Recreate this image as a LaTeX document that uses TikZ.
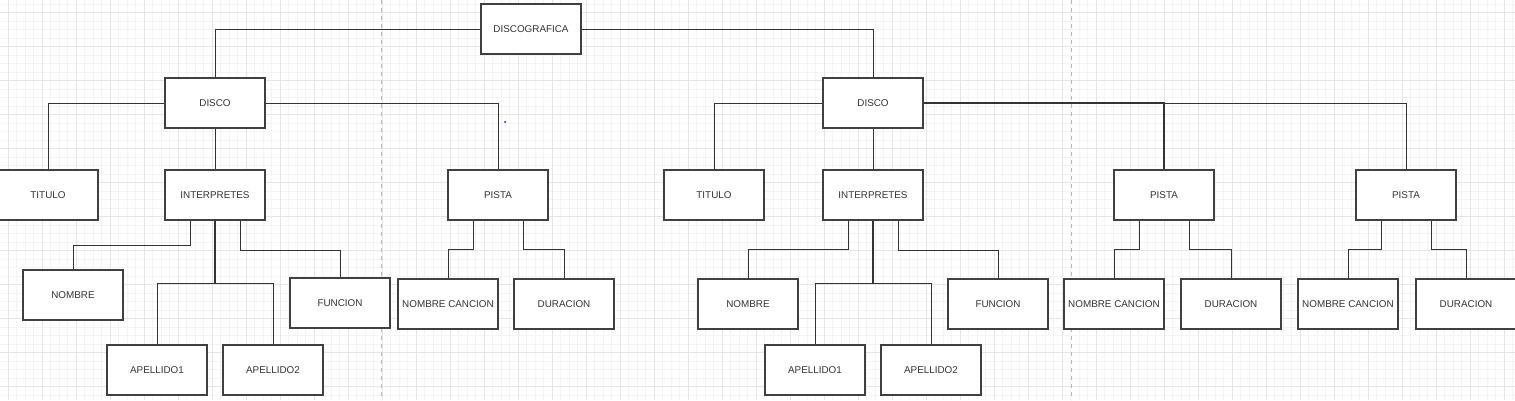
\documentclass[tikz,border=0pt]{standalone}
\usepackage{fontspec}
\setmainfont{Liberation Sans}
\definecolor{ink}{HTML}{333333}
\definecolor{rim}{HTML}{404040}
\begin{document}
\begin{tikzpicture}[
	x=0.75pt, y=-0.75pt,
	box/.style={
		draw=rim, line width=0.8pt, rectangle, fill=white,
		minimum width=75pt, minimum height=37.5pt,
		font=\fontsize{7.4}{9}\selectfont, text=ink, inner sep=0pt
	},
	link/.style={draw=ink, line width=0.7pt},
	minor/.style={gray!9, line width=0.5pt},
	major/.style={gray!20, line width=0.5pt},
	pagebreak/.style={gray!55, dashed, line width=0.5pt},
	]
	
	% paper and grid
	\fill[white] (0,0) rectangle (1515,400);
	\useasboundingbox (0,0) rectangle (1515,400);
	\foreach \k in {0,...,178} \draw[minor] ({-0.5+8.5*\k},0) -- ++(0,400);
	\foreach \k in {0,...,47} \draw[minor] (0,{4.2+8.5*\k}) -- ++(1515,0);
	\foreach \k in {0,...,44} \draw[major] ({8+34*\k},0) -- ++(0,400);
	\foreach \k in {0,...,11} \draw[major] (0,{12.7+34*\k}) -- ++(1515,0);
	\draw[pagebreak] (381,0) -- (381,400);
	\draw[pagebreak] (1071,0) -- (1071,400);
	
	\node[box] (disco-grafica) at (531,29) {DISCOGRAFICA};
	
	% first disco
	\node[box] (discoA)    at (215,103) {DISCO};
	\node[box] (tituloA)   at (48,195)  {TITULO};
	\node[box] (interpA)   at (215,195) {INTERPRETES};
	\node[box] (pistaA)    at (498,195) {PISTA};
	\node[box] (nombreA)   at (73,295)  {NOMBRE};
	\node[box] (apel1A)    at (157,370) {APELLIDO1};
	\node[box] (apel2A)    at (273,370) {APELLIDO2};
	\node[box] (funcionA)  at (340,303) {FUNCION};
	\node[box] (cancionA)  at (448,304) {NOMBRE CANCION};
	\node[box] (duracionA) at (564,304) {DURACION};
	
	% second disco
	\node[box] (discoB)     at (873,103)  {DISCO};
	\node[box] (tituloB)    at (714,195)  {TITULO};
	\node[box] (interpB)    at (873,195)  {INTERPRETES};
	\node[box] (pistaB1)    at (1164,195) {PISTA};
	\node[box] (pistaB2)    at (1406,195) {PISTA};
	\node[box] (nombreB)    at (748,304)  {NOMBRE};
	\node[box] (apel1B)     at (815,370)  {APELLIDO1};
	\node[box] (apel2B)     at (931,370)  {APELLIDO2};
	\node[box] (funcionB)   at (998,304)  {FUNCION};
	\node[box] (cancionB1)  at (1114,304) {NOMBRE CANCION};
	\node[box] (duracionB1) at (1231,304) {DURACION};
	\node[box] (cancionB2)  at (1348,304) {NOMBRE CANCION};
	\node[box] (duracionB2) at (1466,304) {DURACION};
	
	\draw[link] (disco-grafica.west) -| (discoA.north);
	\draw[link] (disco-grafica.east) -| (discoB.north);
	
	\draw[link] (discoA.west) -| (tituloA.north);
	\draw[link] (discoA.south) -- (interpA.north);
	\draw[link] (discoA.east) -| (pistaA.north);
	\draw[link] ([shift={(-25,0)}]interpA.south) -- ++(0,25) -| (nombreA.north);
	\draw[link, line width=0.9pt] (interpA.south) -- ++(0,63) coordinate (jA);
	\draw[link] (apel1A.north) |- (jA) -| (apel2A.north);
	\draw[link] ([shift={(25,0)}]interpA.south) -- ++(0,30) -| (funcionA.north);
	\draw[link] ([shift={(-25,0)}]pistaA.south) -- ++(0,29) -| (cancionA.north);
	\draw[link] ([shift={(25,0)}]pistaA.south) -- ++(0,29) -| (duracionA.north);
	\fill[blue] (505,122) circle (1);
	
	\draw[link] (discoB.west) -| (tituloB.north);
	\draw[link] (discoB.south) -- (interpB.north);
	\draw[link, line width=0.85pt] (discoB.east) -| (pistaB1.north);
	\draw[link] (discoB.east) -| (pistaB2.north);
	\draw[link] ([shift={(-25,0)}]interpB.south) -- ++(0,29) -| (nombreB.north);
	\draw[link, line width=0.9pt] (interpB.south) -- ++(0,63) coordinate (jB);
	\draw[link] (apel1B.north) |- (jB) -| (apel2B.north);
	\draw[link] ([shift={(25,0)}]interpB.south) -- ++(0,30) -| (funcionB.north);
	\draw[link] ([shift={(-25,0)}]pistaB1.south) -- ++(0,29) -| (cancionB1.north);
	\draw[link] ([shift={(25,0)}]pistaB1.south) -- ++(0,29) -| (duracionB1.north);
	\draw[link] ([shift={(-25,0)}]pistaB2.south) -- ++(0,29) -| (cancionB2.north);
	\draw[link] ([shift={(25,0)}]pistaB2.south) -- ++(0,29) -| (duracionB2.north);
	
\end{tikzpicture}
\end{document}
